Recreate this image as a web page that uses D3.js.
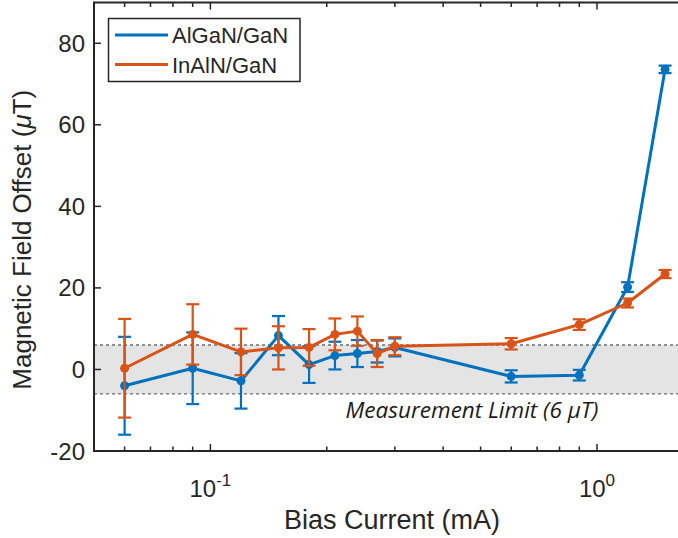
<!DOCTYPE html>
<html>
<head>
<meta charset="utf-8">
<script src="https://cdn.jsdelivr.net/npm/d3@7"></script>
<style>
  body { margin: 0; background: #fff; }
  svg { display: block; font-family: "Liberation Sans", Arial, sans-serif; }
</style>
</head>
<body>
<svg id="chart" width="678" height="538"></svg>
<script>
// bias current sweep (mA), shared by both devices
var biasCurrent = [0.06, 0.09, 0.12, 0.15, 0.18, 0.21, 0.24, 0.27, 0.30, 0.60, 0.90, 1.20, 1.50];

var alganOffset = [-4.0, 0.3, -2.8, 8.3, 1.2, 3.4, 3.9, 4.4, 5.4, -1.7, -1.4, 20.2, 73.6];
var alganErr = [12.0, 8.8, 6.8, 4.8, 4.5, 3.4, 3.3, 2.7, 2.2, 1.5, 1.3, 1.2, 0.9];

var inalnOffset = [0.3, 8.6, 4.3, 5.3, 5.4, 8.6, 9.4, 3.9, 5.7, 6.3, 11.0, 16.3, 23.4];
var inalnErr = [12.1, 7.4, 5.7, 5.3, 4.5, 3.9, 3.6, 3.3, 2.2, 1.4, 1.3, 1.1, 1.0];

var seriesNames = ['AlGaN/GaN', 'InAlN/GaN'];
var yTicks = [-20, 0, 20, 40, 60, 80];
var xMajorTicks = [0.1, 1];
var xMinorTicks = [0.06, 0.07, 0.08, 0.09, 0.2, 0.3, 0.4, 0.5, 0.6, 0.7, 0.8, 0.9];
var measurementLimit = 6;

var colors = {
  'AlGaN/GaN': '#0072BD',
  'InAlN/GaN': '#D95319'
};
var axisColor = '#262626';

var margin = {left: 94, top: 2.5, bottom: 451};
var xDomain = [0.05, 1.7];
var decadePx = 386.6;

var svg = d3.select('#chart');

var x = d3.scaleLog()
  .domain(xDomain)
  .range([margin.left, margin.left + decadePx * Math.log10(xDomain[1] / xDomain[0])]);
var y = d3.scaleLinear()
  .domain([-20, 90])
  .range([margin.bottom, margin.top]);

var plotLeft = x.range()[0], plotRight = x.range()[1];
var plotTop = y.range()[1], plotBottom = y.range()[0];

svg.append('clipPath').attr('id', 'plot-clip')
  .append('rect')
  .attr('x', plotLeft).attr('y', plotTop)
  .attr('width', plotRight - plotLeft).attr('height', plotBottom - plotTop);

var plot = svg.append('g').attr('clip-path', 'url(#plot-clip)');

// measurement limit band
plot.append('rect')
  .attr('x', plotLeft)
  .attr('y', y(measurementLimit))
  .attr('width', plotRight - plotLeft)
  .attr('height', y(-measurementLimit) - y(measurementLimit))
  .attr('fill', '#e4e4e4');

[measurementLimit, -measurementLimit].forEach(function(v) {
  plot.append('line')
    .attr('x1', plotLeft).attr('x2', plotRight)
    .attr('y1', y(v)).attr('y2', y(v))
    .attr('stroke', '#6e6e6e')
    .attr('stroke-width', 1.4)
    .attr('stroke-dasharray', '3,3');
});

svg.append('text')
  .attr('x', 472)
  .attr('y', y(-measurementLimit) + 24)
  .attr('text-anchor', 'middle')
  .style('font-family', '"Open Sans", "DejaVu Sans", sans-serif')
  .style('font-style', 'italic')
  .style('font-size', '22.5px')
  .attr('fill', '#1a1a1a')
  .text('Measurement Limit (6 \u03BCT)');

function makeSeries(name, values, errs) {
  return {
    name: name,
    points: biasCurrent.map(function(c, i) {
      return {x: c, y: values[i], err: errs[i]};
    })
  };
}

var series = [
  makeSeries(seriesNames[0], alganOffset, alganErr),
  makeSeries(seriesNames[1], inalnOffset, inalnErr)
];

var line = d3.line()
  .x(function(d) { return x(d.x); })
  .y(function(d) { return y(d.y); });

var capHalf = 6.5;

series.forEach(function(s) {
  var g = plot.append('g').attr('class', 'series');
  var color = colors[s.name];

  g.append('path')
    .datum(s.points)
    .attr('d', line)
    .attr('fill', 'none')
    .attr('stroke', color)
    .attr('stroke-width', 3)
    .attr('stroke-linejoin', 'round');

  var bars = g.selectAll('g.errbar')
    .data(s.points)
    .enter()
    .append('g')
    .attr('class', 'errbar')
    .attr('stroke', color)
    .attr('stroke-width', 2.2);

  bars.append('line')
    .attr('x1', function(d) { return x(d.x); })
    .attr('x2', function(d) { return x(d.x); })
    .attr('y1', function(d) { return y(d.y + d.err); })
    .attr('y2', function(d) { return y(d.y - d.err); });

  // caps
  [1, -1].forEach(function(sign) {
    bars.append('line')
      .attr('x1', function(d) { return x(d.x) - capHalf; })
      .attr('x2', function(d) { return x(d.x) + capHalf; })
      .attr('y1', function(d) { return y(d.y + sign * d.err); })
      .attr('y2', function(d) { return y(d.y + sign * d.err); });
  });

  g.selectAll('circle')
    .data(s.points)
    .enter()
    .append('circle')
    .attr('cx', function(d) { return x(d.x); })
    .attr('cy', function(d) { return y(d.y); })
    .attr('r', 4.5)
    .attr('fill', color);
});

// axes box
var axes = svg.append('g').attr('stroke', axisColor).attr('fill', 'none');
axes.append('rect')
  .attr('x', plotLeft).attr('y', plotTop)
  .attr('width', plotRight - plotLeft).attr('height', plotBottom - plotTop)
  .attr('stroke-width', 2);

yTicks.forEach(function(v) {
  axes.append('line')
    .attr('x1', plotLeft).attr('x2', plotLeft + 7)
    .attr('y1', y(v)).attr('y2', y(v))
    .attr('stroke-width', 1.5);
});

function xTick(v, len) {
  axes.append('line')
    .attr('x1', x(v)).attr('x2', x(v))
    .attr('y1', plotBottom).attr('y2', plotBottom - len)
    .attr('stroke-width', 1.5);
  axes.append('line')
    .attr('x1', x(v)).attr('x2', x(v))
    .attr('y1', plotTop).attr('y2', plotTop + len)
    .attr('stroke-width', 1.5);
}
xMajorTicks.forEach(function(v) { xTick(v, 7); });
xMinorTicks.forEach(function(v) { xTick(v, 4.5); });

// tick labels
svg.append('g')
  .selectAll('text')
  .data(yTicks)
  .enter()
  .append('text')
  .attr('x', plotLeft - 9)
  .attr('y', function(d) { return y(d) + 8.5; })
  .attr('text-anchor', 'end')
  .style('font-size', '24px')
  .attr('fill', axisColor)
  .text(function(d) { return d; });

var xLabels = svg.append('g')
  .selectAll('text')
  .data(xMajorTicks)
  .enter()
  .append('text')
  .attr('x', function(d) { return x(d); })
  .attr('y', plotBottom + 46)
  .attr('text-anchor', 'middle')
  .style('font-size', '24px')
  .attr('fill', axisColor);
xLabels.append('tspan').text('10');
xLabels.append('tspan')
  .attr('dy', -11)
  .style('font-size', '17px')
  .text(function(d) { return Math.round(Math.log10(d)); });

// axis titles
svg.append('text')
  .attr('x', (plotLeft + 678) / 2 + 6)
  .attr('y', 529)
  .attr('text-anchor', 'middle')
  .style('font-size', '27px')
  .attr('fill', axisColor)
  .text('Bias Current (mA)');

var yTitle = svg.append('text')
  .attr('transform', 'translate(31,' + ((plotTop + plotBottom) / 2 + 13) + ') rotate(-90)')
  .attr('text-anchor', 'middle')
  .style('font-size', '26px')
  .attr('fill', axisColor);
yTitle.append('tspan').text('Magnetic Field Offset (');
yTitle.append('tspan').style('font-style', 'italic').text('\u03BC');
yTitle.append('tspan').text('T)');

// legend
var legend = svg.append('g');
legend.append('rect')
  .attr('x', 108.5).attr('y', 18.5)
  .attr('width', 191.5).attr('height', 63)
  .attr('fill', '#fff')
  .attr('stroke', axisColor)
  .attr('stroke-width', 1.5);

var legendRows = legend.selectAll('g.row')
  .data(seriesNames)
  .enter()
  .append('g')
  .attr('class', 'row')
  .attr('transform', function(d, i) { return 'translate(0,' + (35 + i * 29.5) + ')'; });

legendRows.append('line')
  .attr('x1', 115).attr('x2', 168)
  .attr('stroke', function(d) { return colors[d]; })
  .attr('stroke-width', 3);

legendRows.append('text')
  .attr('x', 172)
  .attr('y', 8)
  .style('font-size', '22px')
  .attr('fill', axisColor)
  .text(function(d) { return d; });
</script>
</body>
</html>
